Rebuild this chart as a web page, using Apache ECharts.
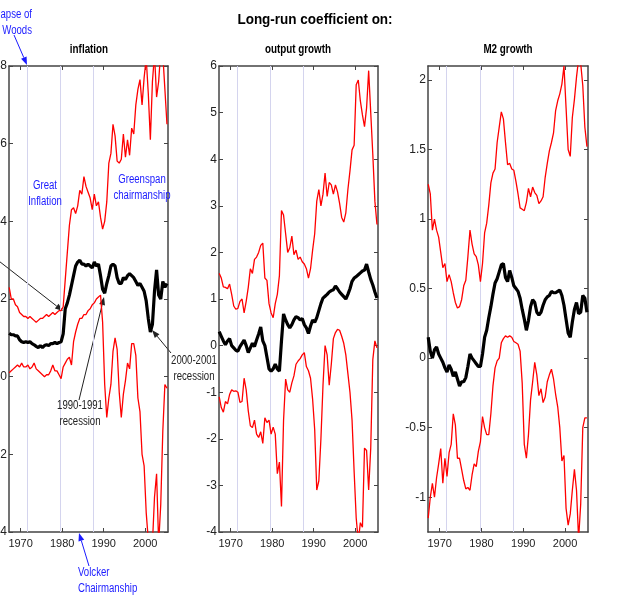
<!DOCTYPE html>
<html>
<head>
<meta charset="utf-8">
<script src="https://cdn.jsdelivr.net/npm/echarts@6/dist/echarts.min.js"></script>
<style>
  html, body { margin: 0; padding: 0; background: #fff; }
  #main { width: 625px; height: 599px; }
</style>
</head>
<body>
<div id="main"></div>
<script>
// half-year grid, 1967.25 .. 2005.25
var years = [];
for (var k = 0; k < 77; k++) years.push(1967.25 + 0.5 * k);

var xTicks = [1970, 1980, 1990, 2000];
var eventYears = [1971.6, 1979.6, 1987.6]; // Bretton Woods, Volcker, Greenspan

// inflation
var infHi = [2.3, 2.0, 2.0, 1.85, 1.8, 1.65, 1.6, 1.55, 1.55, 1.5,
  1.55, 1.5, 1.45, 1.4, 1.45, 1.5, 1.5, 1.55, 1.6, 1.55,
  1.6, 1.65, 1.6, 1.65, 1.7, 1.7, 1.8, 2.5, 3.2, 3.9,
  4.3, 4.35, 4.2, 4.4, 4.8, 4.7, 5.15, 4.9, 4.75, 4.6,
  4.3, 4.7, 4.4, 4.5, 4.1, 3.8, 4.0, 4.5, 5.5, 5.75,
  6.5, 6.2, 5.55, 5.5, 5.6, 6.25, 5.65, 6.1, 5.7, 6.4,
  6.25, 7.0, 7.4, 7.65, 7.0, 7.7, 8.2, 7.3, 6.1, 7.6,
  8.3, 7.2, 7.6, 8.4, 8.3, 7.4, 6.5];
var infMid = [1.12, 1.08, 1.08, 1.05, 1.05, 0.95, 0.9, 0.88, 0.9, 0.88,
  0.9, 0.85, 0.82, 0.78, 0.75, 0.8, 0.75, 0.8, 0.82, 0.8,
  0.85, 0.85, 0.88, 0.85, 0.88, 0.9, 1.1, 1.75, 1.9, 2.1,
  2.35, 2.6, 2.85, 2.95, 3.0, 2.9, 2.9, 2.85, 2.9, 2.85,
  2.8, 2.95, 2.85, 2.9, 2.6, 2.25, 2.15, 2.4, 2.6, 2.85,
  2.9, 2.85, 2.55, 2.4, 2.4, 2.55, 2.5, 2.6, 2.65, 2.6,
  2.55, 2.45, 2.35, 2.4, 2.3, 2.2, 1.95, 1.5, 1.15, 1.35,
  2.2, 2.75, 2.1, 2.0, 2.45, 2.3, 2.4];
var infLo = [0.1, 0.15, 0.2, 0.25, 0.3, 0.25, 0.35, 0.25, 0.25, 0.3,
  0.2, 0.25, 0.35, 0.2, 0.15, 0.1, 0.05, 0.0, 0.05, 0.05,
  0.15, 0.3, 0.15, 0.15, 0.05, -0.05, 0.25, 0.35, 0.45, 0.5,
  0.3, 0.9, 1.15, 1.35, 1.5, 1.5, 1.6, 1.6, 1.7, 1.75,
  1.85, 1.9, 2.0, 2.05, 2.1, 1.4, -0.2, -1.05, -0.55, -0.2,
  0.65, 1.0, 0.7, -0.4, -1.05, -0.45, -0.1, 0.35, 0.2, 0.85,
  0.85, 0.55, -0.55, -0.9, -2.0, -2.3, -3.5, -4.2, -4.4, -4.3,
  -3.1, -2.5, -4.3, -3.3, -1.4, -0.2, -0.3];

// output growth
var outHi = [1.55, 1.45, 1.26, 1.25, 1.22, 1.32, 1.1, 0.85, 0.78, 0.8,
  0.95, 1.0, 0.7, 0.95, 1.25, 1.65, 1.55, 1.85, 1.9, 2.0,
  2.15, 2.2, 1.45, 1.4, 0.9, 0.7, 0.6, 0.9, 1.1, 1.5,
  2.9, 2.8, 2.4, 2.0, 2.1, 2.35, 1.95, 2.05, 1.85, 1.9,
  1.8, 1.75, 1.65, 1.45, 1.65, 2.05, 2.4, 3.1, 3.35, 3.0,
  3.25, 3.7, 3.2, 3.5, 3.45, 3.25, 3.45, 3.3, 3.05, 2.75,
  2.65, 2.85, 3.35, 3.75, 4.2, 4.3, 5.6, 5.7, 5.25, 4.95,
  4.7, 5.1, 5.9, 5.0, 4.1, 3.1, 2.6];
var outMid = [0.3, 0.2, 0.1, 0.02, 0.1, 0.15, 0.0, -0.05, -0.1, -0.12,
  -0.02, 0.05, 0.12, 0.0, -0.15, -0.05, 0.05, -0.02, 0.12, 0.25,
  0.4, 0.1, 0.0, -0.25, -0.5, -0.55, -0.5, -0.4, -0.5, -0.55,
  0.1, 0.68, 0.55, 0.45, 0.38, 0.45, 0.55, 0.62, 0.6, 0.55,
  0.58, 0.45, 0.38, 0.26, 0.42, 0.55, 0.5, 0.6, 0.75, 0.9,
  1.02, 1.06, 1.1, 1.15, 1.18, 1.2, 1.28, 1.22, 1.15, 1.1,
  1.05, 1.0, 1.1, 1.22, 1.38, 1.45, 1.48, 1.52, 1.56, 1.6,
  1.62, 1.75, 1.58, 1.42, 1.3, 1.15, 1.02];
var outLo = [-1.1, -1.33, -1.43, -1.2, -1.25, -1.05, -0.95, -0.98, -0.97, -1.0,
  -1.22, -1.2, -0.7, -0.95, -1.4, -1.72, -1.76, -1.6, -1.9, -1.97,
  -1.85, -2.1, -1.55, -1.65, -1.6, -1.9, -1.75, -1.9, -2.75, -2.5,
  -3.45, -1.6, -0.72, -0.95, -1.0, -0.8, -0.65, -0.4, -0.33, -0.28,
  -0.2, -0.15, -0.45, -0.54, -0.7, -1.15, -1.8, -3.1, -2.9, -2.0,
  -0.85, 0.0, -0.2, -0.85, -0.4, 0.15, 0.28, 0.35, 0.33, 0.2,
  0.05, -0.2, -0.6, -1.0, -1.6, -2.7, -3.7, -4.2, -3.8, -3.9,
  -2.2, -2.25, -3.1, -2.2, -0.3, 0.1, -0.05];

// M2 growth
var m2Hi = [1.25, 1.18, 0.92, 1.0, 0.92, 0.87, 0.76, 0.65, 0.68, 0.55,
  0.6, 0.55, 0.47, 0.4, 0.36, 0.37, 0.42, 0.52, 0.56, 0.73,
  0.92, 0.82, 0.75, 0.73, 0.67, 0.55, 0.68, 0.9, 0.97, 1.1,
  1.26, 1.33, 1.36, 1.55, 1.66, 1.77, 1.72, 1.55, 1.39, 1.4,
  1.36, 1.35, 1.27, 1.18, 1.08, 1.07, 1.06, 1.12, 1.22, 1.16,
  1.23, 1.19, 1.17, 1.11, 1.13, 1.16, 1.3, 1.4, 1.49, 1.55,
  1.62, 1.78, 1.85, 1.9, 1.97, 2.1, 1.8, 1.5, 1.45, 1.73,
  1.86, 2.02, 2.15, 2.12, 1.96, 1.66, 1.52];
var m2Mid = [0.15, 0.05, 0.0, 0.06, 0.08, 0.03, 0.0, -0.03, -0.07, -0.1,
  -0.05, -0.08, -0.13, -0.1, -0.15, -0.2, -0.17, -0.17, -0.14, -0.06,
  0.03, 0.0, -0.02, -0.04, -0.06, -0.06, 0.03, 0.15, 0.2, 0.29,
  0.37, 0.46, 0.54, 0.57, 0.62, 0.67, 0.68, 0.58, 0.55, 0.63,
  0.58, 0.52, 0.5, 0.48, 0.43, 0.35, 0.28, 0.2, 0.27, 0.37,
  0.42, 0.4, 0.33, 0.31, 0.33, 0.38, 0.42, 0.44, 0.45, 0.48,
  0.47, 0.47, 0.48, 0.49, 0.45, 0.38, 0.28, 0.18, 0.15, 0.26,
  0.35, 0.4, 0.32, 0.33, 0.45, 0.43, 0.33];
var m2Lo = [-1.15, -1.0, -0.9, -1.0, -0.86, -0.76, -0.65, -0.9, -0.72, -0.85,
  -0.68, -0.62, -0.4, -0.48, -0.72, -0.72, -0.8, -0.88, -0.94, -0.93,
  -0.95, -0.84, -0.76, -0.78, -0.67, -0.6, -0.42, -0.5, -0.55, -0.55,
  -0.4, -0.2, -0.07, -0.02, 0.0, 0.11, 0.14, 0.16, 0.15, 0.16,
  0.15, 0.12, 0.11, 0.1, 0.05, -0.18, -0.62, -0.72, -0.55, -0.3,
  -0.17, -0.03, -0.12, -0.27, -0.22, -0.32, -0.28, -0.17, -0.12, -0.08,
  -0.15, -0.26, -0.35, -0.5, -0.74, -0.7, -1.08, -1.2, -1.12, -0.95,
  -0.8, -0.95, -1.3, -1.05, -0.5, -0.43, -0.43];

var panelTitles = ['inflation', 'output growth', 'M2 growth'];
var yTicks = [
  [-4, -2, 0, 2, 4, 6, 8],
  [-4, -3, -2, -1, 0, 1, 2, 3, 4, 5, 6],
  [-1, -0.5, 0, 0.5, 1, 1.5, 2]
];
var yRanges = [[-4, 8], [-4, 6], [-1.25, 2.1]];

var FONT = "'Liberation Sans', Arial, sans-serif";
var BLUE = '#1a1aff';
var grids = [
  { left: 9, top: 66, width: 159, height: 466, outerBoundsMode: 'none', containLabel: false },
  { left: 219, top: 66, width: 159, height: 466, outerBoundsMode: 'none', containLabel: false },
  { left: 428, top: 66, width: 160, height: 466, outerBoundsMode: 'none', containLabel: false }
];

function zip(vals) {
  return years.map(function (y, i) { return [y, vals[i]]; });
}

var xAxes = [], yAxes = [], series = [];
var panels = [[infHi, infMid, infLo], [outHi, outMid, outLo], [m2Hi, m2Mid, m2Lo]];

panels.forEach(function (p, i) {
  var boxLine = { show: true, onZero: false, lineStyle: { color: '#444', width: 1.5 } };
  ['bottom', 'top'].forEach(function (pos) {
    xAxes.push({
      type: 'value', gridIndex: i, position: pos, min: 1967.2, max: 2005.5,
      axisLine: boxLine, splitLine: { show: false },
      axisTick: { inside: true, length: 4, customValues: xTicks, lineStyle: { color: '#444' } },
      axisLabel: {
        show: pos === 'bottom', customValues: xTicks, margin: 6,
        fontFamily: FONT, fontSize: 11, color: '#222',
        formatter: function (v) { return String(v); }
      }
    });
  });
  ['left', 'right'].forEach(function (pos) {
    yAxes.push({
      type: 'value', gridIndex: i, position: pos,
      min: yRanges[i][0], max: yRanges[i][1],
      axisLine: boxLine, splitLine: { show: false },
      axisTick: { inside: true, length: 4, customValues: yTicks[i], lineStyle: { color: '#444' } },
      axisLabel: {
        show: pos === 'left', customValues: yTicks[i], margin: 2,
        fontFamily: FONT, fontSize: 12, color: '#222',
        formatter: function (v) { return String(v); }
      }
    });
  });
  var styles = [
    { color: '#ff0000', width: 1.3 },
    { color: '#000000', width: 3.2 },
    { color: '#ff0000', width: 1.3 }
  ];
  p.forEach(function (vals, j) {
    var s = {
      type: 'line', xAxisIndex: i * 2, yAxisIndex: i * 2,
      data: zip(vals), showSymbol: false, clip: true, silent: true,
      lineStyle: styles[j], z: j === 1 ? 4 : 3
    };
    if (j === 0) {
      s.markLine = {
        silent: true, symbol: 'none', label: { show: false },
        lineStyle: { color: '#d4d4ee', type: 'solid', width: 1 },
        data: eventYears.map(function (e) { return { xAxis: e }; }),
        z: 1
      };
    }
    series.push(s);
  });
});

// text squeezed horizontally to mimic the narrow face of the original
function txt(x, y, s, opt) {
  opt = opt || {};
  return {
    type: 'group', x: x, y: y, scaleX: opt.sx || 0.8, z: 10,
    children: [{
      type: 'text', x: 0, y: 0, z: 10,
      style: {
        text: s, fill: opt.color || '#222', fontFamily: FONT,
        fontSize: opt.size || 12, fontWeight: opt.weight || 'normal',
        align: opt.align || 'center', verticalAlign: 'middle',
        lineHeight: opt.lh || 16
      }
    }]
  };
}

function arrow(x1, y1, x2, y2, color, w) {
  var a = Math.atan2(y2 - y1, x2 - x1), L = 8, H = 3;
  var bx = x2 - L * Math.cos(a), by = y2 - L * Math.sin(a);
  return {
    type: 'group', z: 10, children: [
      { type: 'line', shape: { x1: x1, y1: y1, x2: bx, y2: by }, style: { stroke: color, lineWidth: w || 1 } },
      { type: 'polygon', shape: { points: [[x2, y2],
        [bx + H * Math.sin(a), by - H * Math.cos(a)],
        [bx - H * Math.sin(a), by + H * Math.cos(a)]] }, style: { fill: color } }
    ]
  };
}

var graphics = [
  txt(315, 20, 'Long-run coefficient on:', { size: 15, weight: 'bold', color: '#000', sx: 0.9 }),
  txt(89, 50, panelTitles[0], { weight: 'bold', color: '#000', sx: 0.82 }),
  txt(298, 50, panelTitles[1], { weight: 'bold', color: '#000', sx: 0.82 }),
  txt(508, 50, panelTitles[2], { weight: 'bold', color: '#000', sx: 0.82 }),
  txt(32, 23, 'Collapse of\nBretton Woods', { color: BLUE, align: 'right' }),
  arrow(14, 35, 27, 65, BLUE),
  txt(45, 194, 'Great\nInflation', { color: BLUE }),
  txt(142, 188, 'Greenspan\nchairmanship', { color: BLUE }),
  txt(78, 581, 'Volcker\nChairmanship', { color: BLUE, align: 'left' }),
  arrow(89, 566, 79, 533, BLUE),
  arrow(-5, 258, 63, 311, '#222'),
  txt(80, 414, '1990-1991\nrecession'),
  arrow(79, 400, 104, 297, '#222'),
  txt(194, 369, '2000-2001\nrecession'),
  arrow(171, 353, 152, 330, '#222')
];

var chart = echarts.init(document.getElementById('main'), null, { renderer: 'canvas' });
chart.setOption({
  backgroundColor: '#fff',
  animation: false,
  grid: grids,
  xAxis: xAxes,
  yAxis: yAxes,
  series: series,
  graphic: graphics
});
</script>
</body>
</html>
